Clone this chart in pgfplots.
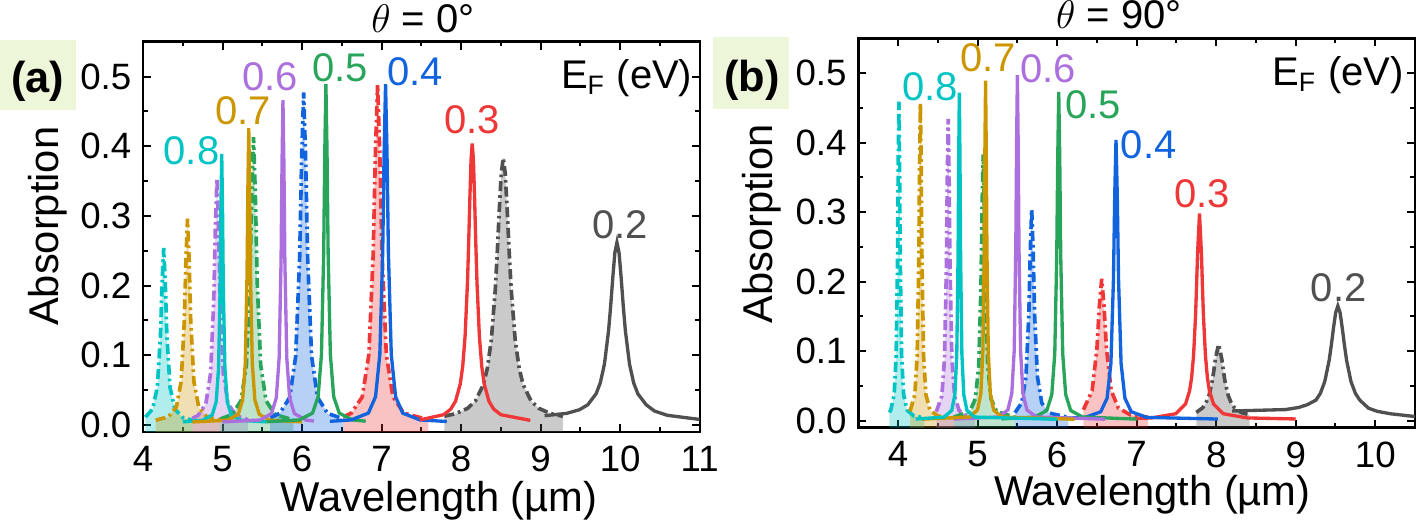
\documentclass[border=0pt]{standalone}
\usepackage{pgfplots}
\pgfplotsset{compat=1.18}
\usepackage{pgfplotstable}
\usepackage{fontspec}
\setmainfont{Liberation Sans}

\definecolor{ccyan}{RGB}{0,196,196}
\definecolor{cgold}{RGB}{204,150,0}
\definecolor{cpurp}{RGB}{172,112,222}
\definecolor{cgreen}{RGB}{40,165,90}
\definecolor{cblue}{RGB}{18,100,222}
\definecolor{cred}{RGB}{240,55,55}
\definecolor{cgray}{RGB}{80,80,80}
\definecolor{lblbg}{RGB}{238,246,218}

\pgfplotsset{
  spec/.style={
    scale only axis,
    clip mode=individual,
    ymin=-0.01, ymax=0.55,
    ytick={0,0.1,0.2,0.3,0.4,0.5},
    minor y tick num=1, minor x tick num=1,
    tick align=inside, tick pos=both,
    major tick length=2.4pt, minor tick length=1.4pt,
    axis line style={line width=0.7pt},
    every tick/.append style={line width=0.6pt, black},
    /pgf/number format/assume math mode=true,
    tick label style={font=\fontsize{11}{13}\selectfont},
    yticklabel style={/pgf/number format/.cd, fixed, fixed zerofill, precision=1},
    xticklabel style={yshift=-0.7pt},
    label style={font=\fontsize{12.5}{14}\selectfont},
    xlabel={Wavelength (µm)}, ylabel={Absorption},
    xlabel style={anchor=base},
    ylabel style={anchor=center},
  },
  sol/.style={line width=1pt},
  dd/.style={line width=1.1pt, dash pattern=on 3pt off 1.2pt on 0.8pt off 1.2pt},
}
\tikzset{lbl/.style={font=\fontsize{12}{12}\selectfont}}

% fill under a dash-dot curve down to the axis bottom
\newcommand{\ddfill}[3]{%
  \addplot[draw=none, fill=#1, fill opacity=0.3] table {#2} |- (axis cs:#3,-0.01) -- cycle;}

% ---- theta = 0 deg, dash-dot curves
\pgfplotstableread[row sep=\\]{x y\\ 4.03 .0113\\ 4.12 .0229\\ 4.18 .054\\ 4.22 .129\\ 4.24 .204\\ 4.26 .254\\ 4.28 .204\\ 4.30 .129\\ 4.34 .054\\ 4.40 .0229\\ 4.50 .0108\\ 4.62 .007\\}\aCy
\pgfplotstableread[row sep=\\]{x y\\ 4.16 .0069\\ 4.32 .0119\\ 4.42 .026\\ 4.48 .0624\\ 4.52 .15\\ 4.54 .2376\\ 4.56 .296\\ 4.58 .2376\\ 4.60 .15\\ 4.64 .0624\\ 4.70 .026\\ 4.80 .0119\\ 4.97 .0068\\}\aGo
\pgfplotstableread[row sep=\\]{x y\\ 4.62 .0097\\ 4.69 .0135\\ 4.79 .0304\\ 4.85 .074\\ 4.89 .179\\ 4.91 .284\\ 4.93 .354\\ 4.95 .284\\ 4.97 .179\\ 5.01 .074\\ 5.07 .0304\\ 5.17 .0135\\ 5.32 .0076\\}\aPu
\pgfplotstableread[row sep=\\]{x y\\ 4.97 .0086\\ 5.12 .015\\ 5.2325 .0349\\ 5.30 .0858\\ 5.345 .2085\\ 5.3675 .3312\\ 5.39 .413\\ 5.4125 .3312\\ 5.435 .2085\\ 5.48 .0858\\ 5.5475 .0349\\ 5.66 .015\\ 5.89 .0073\\}\aGr
\pgfplotstableread[row sep=\\]{x y\\ 5.60 .0106\\ 5.72 .0168\\ 5.845 .0397\\ 5.92 .0986\\ 5.97 .2405\\ 5.995 .3824\\ 6.02 .477\\ 6.045 .3824\\ 6.07 .2405\\ 6.12 .0986\\ 6.195 .0397\\ 6.32 .0168\\ 6.52 .0087\\}\aBl
\pgfplotstableread[row sep=\\]{x y\\ 6.52 .0118\\ 6.62 .0171\\ 6.7575 .0405\\ 6.84 .1008\\ 6.895 .246\\ 6.9225 .3912\\ 6.95 .488\\ 6.9775 .3912\\ 7.005 .246\\ 7.06 .1008\\ 7.1425 .0405\\ 7.28 .0171\\ 7.59 .0075\\}\aRe
\pgfplotstableread[row sep=\\]{x y\\ 7.79 .0127\\ 7.93 .0162\\ 8.08 .0238\\ 8.18 .0345\\ 8.28 .058\\ 8.33 .0814\\ 8.38 .122\\ 8.43 .1945\\ 8.455 .2473\\ 8.48 .3076\\ 8.505 .3608\\ 8.53 .383\\ 8.555 .3608\\ 8.58 .3076\\ 8.605 .2473\\ 8.63 .1945\\ 8.68 .122\\ 8.73 .0814\\ 8.78 .058\\ 8.88 .0345\\ 8.98 .0238\\ 9.13 .0162\\ 9.28 .0126\\}\aGy

% ---- theta = 90 deg, dash-dot curves
\pgfplotstableread[row sep=\\]{x y\\ 3.89 .012\\ 3.908 .0153\\ 3.9505 .0374\\ 3.976 .0942\\ 3.993 .231\\ 4.0015 .3678\\ 4.01 .459\\ 4.0185 .3678\\ 4.027 .231\\ 4.044 .0942\\ 4.0695 .0374\\ 4.112 .0153\\ 4.20 .0066\\ 4.33 .0043\\}\bCy
\pgfplotstableread[row sep=\\]{x y\\ 4.15 .0135\\ 4.21 .0373\\ 4.24 .0938\\ 4.26 .23\\ 4.27 .3662\\ 4.28 .457\\ 4.29 .3662\\ 4.30 .23\\ 4.32 .0938\\ 4.35 .0373\\ 4.40 .0153\\ 4.50 .0067\\ 4.70 .004\\}\bGo
\pgfplotstableread[row sep=\\]{x y\\ 4.48 .0129\\ 4.5495 .0355\\ 4.584 .0892\\ 4.607 .2185\\ 4.6185 .3478\\ 4.63 .434\\ 4.6415 .3478\\ 4.653 .2185\\ 4.676 .0892\\ 4.7105 .0355\\ 4.768 .0146\\ 4.85 .0077\\ 4.97 .0049\\}\bPu
\pgfplotstableread[row sep=\\]{x y\\ 4.70 .0052\\ 4.902 .0133\\ 4.972 .0317\\ 5.014 .079\\ 5.042 .193\\ 5.056 .307\\ 5.07 .383\\ 5.084 .307\\ 5.098 .193\\ 5.126 .079\\ 5.168 .0317\\ 5.238 .0133\\ 5.47 .0049\\}\bGr
\pgfplotstableread[row sep=\\]{x y\\ 5.47 .0116\\ 5.554 .0257\\ 5.608 .0632\\ 5.644 .1535\\ 5.662 .2438\\ 5.68 .304\\ 5.698 .2438\\ 5.716 .1535\\ 5.752 .0632\\ 5.806 .0257\\ 5.896 .0111\\ 6.14 .0048\\}\bBl
\pgfplotstableread[row sep=\\]{x y\\ 6.33 .0158\\ 6.44 .0432\\ 6.50 .1035\\ 6.53 .1638\\ 6.56 .204\\ 6.59 .1638\\ 6.62 .1035\\ 6.68 .0432\\ 6.77 .0182\\ 6.92 .0084\\ 7.14 .0051\\}\bRe
\pgfplotstableread[row sep=\\]{x y\\ 7.75 .012\\ 7.83 .0186\\ 7.87 .0252\\ 7.91 .0366\\ 7.95 .057\\ 7.97 .0718\\ 7.99 .0888\\ 8.03 .11\\ 8.07 .0888\\ 8.09 .0718\\ 8.11 .057\\ 8.15 .0366\\ 8.19 .0252\\ 8.23 .0186\\ 8.31 .012\\ 8.42 .0083\\}\bGy

\begin{document}
\begin{tikzpicture}

%% ===================== (a) theta = 0 =====================
\begin{axis}[spec, at={(42.9pt,-129.6pt)}, anchor=south west,
    width=167pt, height=117.1pt,
    xmin=4, xmax=11, xtick={4,5,...,11},
    xlabel style={at={(axis description cs:0.532,-0.204)}},
    ylabel style={at={(axis description cs:-0.171,0.527)}},
]
\ddfill{ccyan}{\aCy}{4.03}
\ddfill{cgold}{\aGo}{4.16}
\ddfill{cpurp}{\aPu}{4.62}
\ddfill{cgreen}{\aGr}{4.97}
\ddfill{cblue}{\aBl}{5.60}
\ddfill{cred}{\aRe}{6.52}
\ddfill{cgray}{\aGy}{7.79}

\addplot[ccyan, dd] table {\aCy};
\addplot[cgold, dd] table {\aGo};
\addplot[cpurp, dd] table {\aPu};
\addplot[cgreen, dd] table {\aGr};
\addplot[cblue, dd] table {\aBl};
\addplot[cred, dd] table {\aRe};
\addplot[cgray, dd] table {\aGy};

\addplot[ccyan, sol] coordinates {(4.50,.0046)(4.75,.0067)(4.87,.0144)(4.92,.0331)(4.95,.081)(4.97,.1965)(4.98,.312)(4.99,.389)(5.00,.312)(5.01,.1965)(5.03,.081)(5.06,.0331)(5.11,.0144)(5.23,.0067)(5.55,.0045)};
\addplot[cgold, sol] coordinates {(4.62,.0044)(5.066,.0069)(5.198,.0154)(5.253,.0359)(5.286,.0884)(5.308,.215)(5.319,.3416)(5.33,.426)(5.341,.3416)(5.352,.215)(5.374,.0884)(5.407,.0359)(5.462,.0154)(5.594,.0069)(6.00,.0045)};
\addplot[cpurp, sol] coordinates {(5.00,.0045)(5.472,.0072)(5.616,.0165)(5.676,.0389)(5.712,.0964)(5.736,.235)(5.748,.3736)(5.76,.466)(5.772,.3736)(5.784,.235)(5.808,.0964)(5.844,.0389)(5.904,.0165)(6.048,.0072)(6.15,.0057)};
\addplot[cgreen, sol] coordinates {(5.55,.0047)(5.964,.0073)(6.132,.0171)(6.202,.0406)(6.244,.101)(6.272,.2465)(6.286,.392)(6.30,.489)(6.314,.392)(6.328,.2465)(6.356,.101)(6.398,.0406)(6.468,.0171)(6.636,.0073)(6.80,.0055)};
\addplot[cblue, sol] coordinates {(6.35,.0053)(6.618,.0073)(6.834,.0171)(6.924,.0406)(6.978,.101)(7.014,.2465)(7.032,.392)(7.05,.489)(7.068,.392)(7.086,.2465)(7.122,.101)(7.176,.0406)(7.266,.0171)(7.482,.0073)(7.82,.0051)};
\addplot[cred, sol] coordinates {(7.48,.0073)(7.78,.0148)(7.87,.0228)(7.93,.0342)(7.99,.0592)(8.02,.084)(8.05,.1271)(8.08,.204)(8.095,.26)(8.11,.324)(8.125,.3804)(8.14,.404)(8.155,.3804)(8.17,.324)(8.185,.26)(8.20,.204)(8.23,.1271)(8.26,.084)(8.29,.0592)(8.35,.0342)(8.41,.0228)(8.50,.0148)(8.87,.0067)};
\addplot[cgray, sol] coordinates {(9.05,.0133)(9.33,.0168)(9.4875,.0219)(9.5925,.029)(9.6975,.0448)(9.75,.0604)(9.8025,.0875)(9.855,.136)(9.88125,.1713)(9.9075,.2116)(9.93375,.2471)(9.96,.262)(9.98625,.2471)(10.0125,.2116)(10.03875,.1713)(10.065,.136)(10.1175,.0875)(10.17,.0604)(10.2225,.0448)(10.3275,.029)(10.4325,.02)(10.59,.014)(11.0,.008)};

\node[lbl, text=ccyan] at (axis cs:4.61,0.394) {0.8};
\node[lbl, text=cgold] at (axis cs:5.26,0.451) {0.7};
\node[lbl, text=cpurp] at (axis cs:5.60,0.500) {0.6};
\node[lbl, text=cgreen] at (axis cs:6.48,0.513) {0.5};
\node[lbl, text=cblue] at (axis cs:7.42,0.507) {0.4};
\node[lbl, text=cred] at (axis cs:8.14,0.438) {0.3};
\node[lbl, text=cgray] at (axis cs:10.0,0.287) {0.2};
\node[lbl, anchor=east, inner sep=0pt] at (axis cs:10.916,0.497) {E\textsubscript{F} (eV)};
\node[anchor=base, inner sep=0pt, font=\fontsize{12}{12}\selectfont, yshift=2.6pt]
  at (axis description cs:0.503,1) {$\theta$ = 0°};
\end{axis}

%% ===================== (b) theta = 90 =====================
\begin{axis}[spec, at={(257.5pt,-128.3pt)}, anchor=south west,
    width=167pt, height=116.8pt,
    xmin=3.5, xmax=10.5, xtick={4,5,...,10},
    xlabel style={at={(axis description cs:0.528,-0.199)}},
    ylabel style={at={(axis description cs:-0.173,0.523)}},
]
\ddfill{ccyan}{\bCy}{3.89}
\ddfill{cgold}{\bGo}{4.15}
\ddfill{cpurp}{\bPu}{4.48}
\ddfill{cgreen}{\bGr}{4.70}
\ddfill{cblue}{\bBl}{5.47}
\ddfill{cred}{\bRe}{6.33}
\ddfill{cgray}{\bGy}{7.75}

\addplot[ccyan, dd] table {\bCy};
\addplot[cgold, dd] table {\bGo};
\addplot[cpurp, dd] table {\bPu};
\addplot[cgreen, dd] table {\bGr};
\addplot[cblue, dd] table {\bBl};
\addplot[cred, dd] table {\bRe};
\addplot[cgray, dd] table {\bGy};

\addplot[cgray, sol] coordinates {(8.20,.014)(8.87,.016)(9.035,.019)(9.145,.023)(9.255,.0297)(9.31,.0394)(9.365,.0563)(9.42,.0865)(9.4475,.1085)(9.475,.1336)(9.5025,.1557)(9.53,.165)(9.5575,.1557)(9.585,.1336)(9.6125,.1085)(9.64,.0865)(9.695,.0563)(9.75,.0394)(9.805,.0297)(9.915,.018)(10.025,.0135)(10.19,.010)(10.5,.006)};
\addplot[cred, sol] coordinates {(6.95,.0031)(7.19,.004)(7.49,.01)(7.615,.0243)(7.665,.0428)(7.69,.0612)(7.715,.0931)(7.74,.15)(7.7525,.1914)(7.765,.2388)(7.79,.298)(7.815,.2388)(7.8275,.1914)(7.84,.15)(7.865,.0931)(7.89,.0612)(7.915,.0428)(7.965,.0243)(8.09,.01)(8.39,.004)(9.00,.0025)};
\addplot[cblue, sol] coordinates {(5.90,.0026)(6.356,.0048)(6.548,.0129)(6.628,.0324)(6.676,.0824)(6.708,.203)(6.724,.3236)(6.74,.404)(6.756,.3236)(6.772,.203)(6.804,.0824)(6.852,.0324)(6.932,.0129)(7.124,.0048)(8.02,.0024)};
\addplot[cgreen, sol] coordinates {(5.30,.0026)(5.72,.0053)(5.87,.0147)(5.9325,.0376)(5.97,.0962)(5.995,.2375)(6.0075,.3788)(6.02,.473)(6.0325,.3788)(6.045,.2375)(6.07,.0962)(6.1075,.0376)(6.17,.0147)(6.32,.0053)(7.00,.0023)};
\addplot[cpurp, sol] coordinates {(4.70,.0023)(5.26,.0054)(5.38,.0154)(5.43,.0394)(5.46,.101)(5.48,.2495)(5.49,.398)(5.50,.497)(5.51,.398)(5.52,.2495)(5.54,.101)(5.57,.0394)(5.62,.0154)(5.74,.0054)(6.60,.0022)};
\addplot[cgold, sol] coordinates {(4.30,.0022)(4.896,.0054)(4.998,.0152)(5.0405,.0388)(5.066,.0994)(5.083,.2455)(5.0915,.3916)(5.10,.489)(5.1085,.3916)(5.117,.2455)(5.134,.0994)(5.1595,.0388)(5.202,.0152)(5.304,.0054)(6.22,.0021)};
\addplot[ccyan, sol] coordinates {(4.22,.0024)(4.578,.0052)(4.674,.0147)(4.714,.0375)(4.738,.096)(4.754,.237)(4.762,.378)(4.77,.472)(4.778,.378)(4.786,.237)(4.802,.096)(4.826,.0375)(4.866,.0147)(4.962,.0052)(6.00,.0021)};

\node[lbl, text=ccyan] at (axis cs:4.40,0.481) {0.8};
\node[lbl, text=cgold] at (axis cs:5.13,0.522) {0.7};
\node[lbl, text=cpurp] at (axis cs:5.89,0.507) {0.6};
\node[lbl, text=cgreen] at (axis cs:6.45,0.455) {0.5};
\node[lbl, text=cblue] at (axis cs:7.15,0.397) {0.4};
\node[lbl, text=cred] at (axis cs:7.82,0.327) {0.3};
\node[lbl, text=cgray] at (axis cs:9.54,0.191) {0.2};
\node[lbl, anchor=east, inner sep=0pt] at (axis cs:10.365,0.497) {E\textsubscript{F} (eV)};
\node[anchor=base, inner sep=0pt, font=\fontsize{12}{12}\selectfont, yshift=3pt]
  at (axis description cs:0.468,1) {$\theta$ = 90°};
\end{axis}

%% panel tags
\fill[lblbg] (0pt,-12pt) rectangle (22.8pt,-33pt);
\node[font=\fontsize{13}{13}\bfseries\selectfont, inner sep=0pt] at (11.25pt,-24.3pt) {(a)};
\fill[lblbg] (213.9pt,-11.1pt) rectangle (236.7pt,-32.7pt);
\node[font=\fontsize{13}{13}\bfseries\selectfont, inner sep=0pt] at (225.6pt,-24pt) {(b)};

\pgfresetboundingbox
\path[use as bounding box] (0pt,0pt) rectangle (425.4pt,-156.9pt);
\end{tikzpicture}
\end{document}
